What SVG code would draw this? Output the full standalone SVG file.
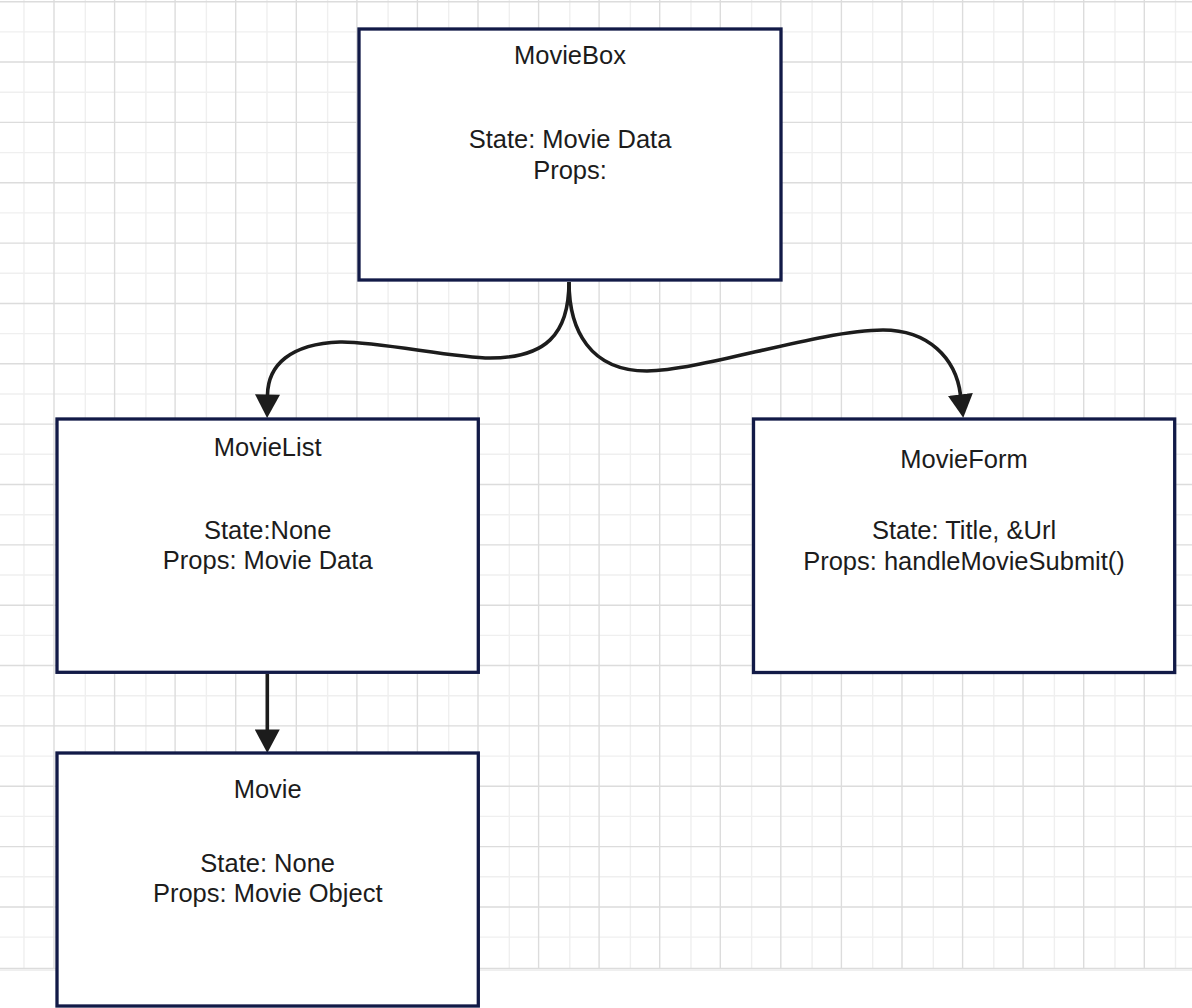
<svg xmlns="http://www.w3.org/2000/svg" width="1192" height="1008" viewBox="0 0 1192 1008">
<style>
.gl{stroke:#efefef;stroke-width:1.4;fill:none}
.gd{stroke:#dcdcdc;stroke-width:1.4;fill:none}
.box{fill:#ffffff;stroke:#121a47;stroke-width:3.3}
.t{font-family:"Liberation Sans",Arial,Helvetica,sans-serif;font-size:25.5px;fill:#1c1c1c;text-anchor:middle}
.edge{fill:none;stroke:#1c1c1c;stroke-width:3.6}
</style>
<defs>
<marker id="arr" markerUnits="userSpaceOnUse" markerWidth="24" markerHeight="25" viewBox="0 0 23.5 25" refX="0.5" refY="12.5" orient="auto">
<path d="M0,0 L23.5,12.5 L0,25 Z" fill="#1c1c1c"/>
</marker>
</defs>
<rect x="0" y="0" width="1192" height="1008" fill="#ffffff"/>
<g id="grid">
<path class="gl" d="M0,31.9H1192M0,92.2H1192M0,152.6H1192M0,212.9H1192M0,273.3H1192M0,333.6H1192M0,394H1192M0,454.3H1192M0,514.7H1192M0,575H1192M0,635.4H1192M0,695.7H1192M0,756.1H1192M0,816.4H1192M0,876.8H1192M0,937.1H1192M0,970.2H1192
M24,0V969M85.3,0V969M145.9,0V969M206.4,0V969M267,0V969M327.6,0V969M388.1,0V969M448.7,0V969M509.3,0V969M569.8,0V969M630.4,0V969M691,0V969M751.6,0V969M812.1,0V969M872.7,0V969M933.3,0V969M993.8,0V969M1054.4,0V969M1115,0V969M1175.5,0V969"/>
<path class="gd" d="M0,1.7H1192M0,62.05H1192M0,122.4H1192M0,182.75H1192M0,243.1H1192M0,303.45H1192M0,363.8H1192M0,424.15H1192M0,484.5H1192M0,544.85H1192M0,605.2H1192M0,665.55H1192M0,725.9H1192M0,786.25H1192M0,846.6H1192M0,906.95H1192M0,968.5H1192
M54,0V969M114.6,0V969M175.1,0V969M235.7,0V969M296.3,0V969M356.9,0V969M417.4,0V969M478,0V969M538.6,0V969M599.1,0V969M659.7,0V969M720.3,0V969M780.8,0V969M841.4,0V969M902,0V969M962.6,0V969M1023.1,0V969M1083.7,0V969M1144.3,0V969"/>
</g>
<g id="connectors">
<path class="edge" d="M569,282 C569,335 545,358 490,358 C455,358 375,341 340,342 C290,344 268,365 267.5,395" marker-end="url(#arr)"/>
<path class="edge" d="M569,282 C569,330 590,371 647,371 C700,371 820,330 883,330 C928,330 956,358 960.5,395" marker-end="url(#arr)"/>
<path class="edge" d="M267.3,674 L267.3,730" marker-end="url(#arr)"/>
</g>
<g id="MovieBox">
<rect class="box" x="359" y="29" width="422" height="251"/>
<text class="t" x="570" y="64">MovieBox</text>
<text class="t" x="570" y="148.3">State: Movie Data</text>
<text class="t" x="570" y="179.3">Props:</text>
</g>
<g id="MovieList">
<rect class="box" x="57" y="419" width="421.3" height="253.3"/>
<text class="t" x="267.7" y="455.7">MovieList</text>
<text class="t" x="267.7" y="539">State:None</text>
<text class="t" x="267.7" y="569.3">Props: Movie Data</text>
</g>
<g id="MovieForm">
<rect class="box" x="753.5" y="419" width="421.2" height="253.5"/>
<text class="t" x="964" y="468.3">MovieForm</text>
<text class="t" x="964" y="539.3">State: Title, &amp;Url</text>
<text class="t" x="964" y="570">Props: handleMovieSubmit()</text>
</g>
<g id="Movie">
<rect class="box" x="57" y="753" width="421.3" height="253"/>
<text class="t" x="267.7" y="798.3">Movie</text>
<text class="t" x="267.7" y="872.3">State: None</text>
<text class="t" x="267.7" y="902.3">Props: Movie Object</text>
</g>
</svg>
